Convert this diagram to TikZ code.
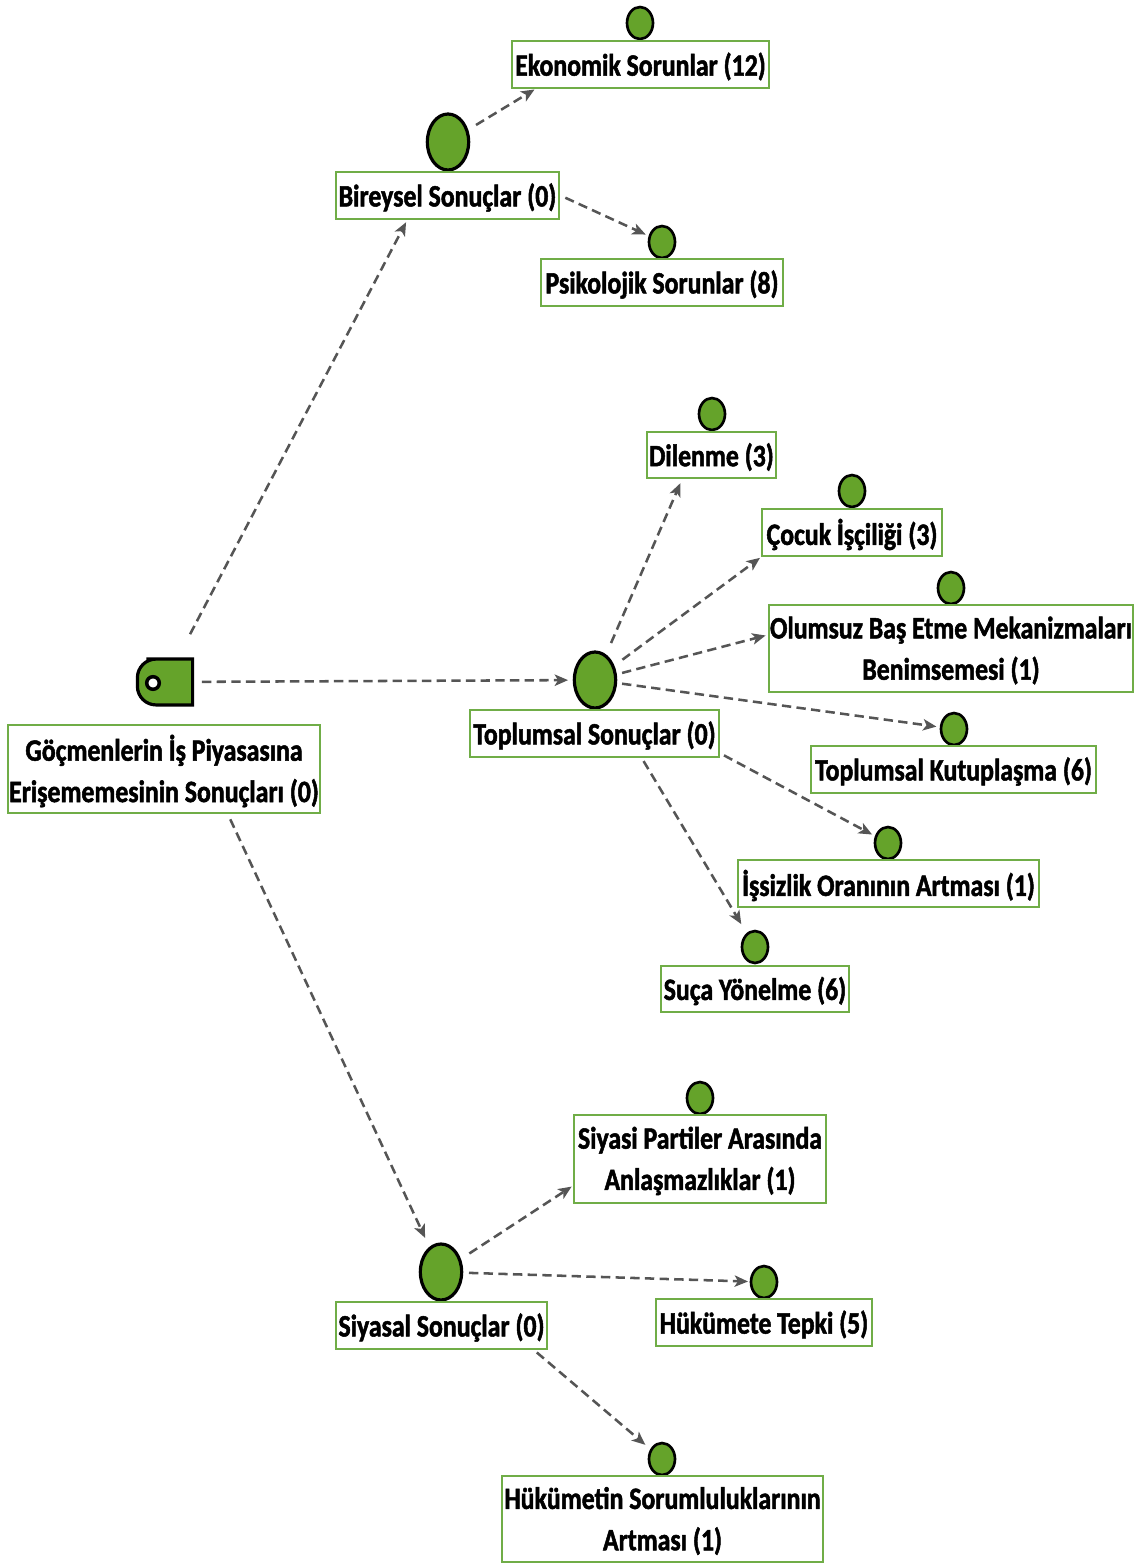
\documentclass[tikz,border=0pt]{standalone}
\usepackage{fontspec}
\setmainfont{Carlito}[FakeStretch=0.83,BoldFeatures={FakeBold=1.6}]
\usetikzlibrary{arrows.meta,shapes.geometric,fit,calc}
\definecolor{boxgreen}{RGB}{112,173,71}
\definecolor{dotgreen}{RGB}{101,163,42}
\definecolor{linkgray}{RGB}{85,85,85}
\begin{document}
\begin{tikzpicture}[x=0.75pt,y=-0.75pt,
  lbl/.style={draw=boxgreen,line width=2.2pt,fill=white,inner sep=0pt,
    align=center,font=\fontsize{23.3}{31}\selectfont\bfseries},
  txt/.style={lbl,draw=none,fill=none,yshift=-1.5pt},
  dot/.style={ellipse,draw=black,line width=2pt,fill=dotgreen,
    minimum width=19.5pt,minimum height=24pt,inner sep=0pt},
  bigdot/.style={ellipse,draw=black,line width=2.4pt,fill=dotgreen,
    minimum width=31pt,minimum height=42pt,inner sep=0pt},
  conn/.style={draw=linkgray,line width=1.9pt,dash pattern=on 7pt off 4pt,
    -{Stealth[length=10pt,width=8.5pt,inset=2.5pt]}}]
\useasboundingbox (0,0) rectangle (1144,1564);

% ---- root ----
\node[lbl,fit={(8,725) (320,813)}] (root) {};
\node[txt] at (root.center) {Göçmenlerin İş Piyasasına\\Erişememesinin Sonuçları (0)};
\node[minimum width=41pt,minimum height=34pt,inner sep=0pt] (icon) at (165,682) {};
\draw[line width=2.4pt,fill=dotgreen]
  (icon.south) [rounded corners=14pt] -- (icon.south west) -- (icon.north west)
  -- (icon.north) [sharp corners] -- (icon.north east) -- (icon.south east) -- cycle;
\draw[line width=2.6pt,fill=white] (153,683) circle[radius=6.3];

% ---- first level ----
\node[bigdot] (bdot) at (448,142) {};
\node[lbl,fit={(336,172) (559,219)}] (bire) {};
\node[txt] at (bire.center) {Bireysel Sonuçlar (0)};

\node[bigdot] (tdot) at (595,680) {};
\node[lbl,fit={(470,710) (719,757)}] (topl) {};
\node[txt] at (topl.center) {Toplumsal Sonuçlar (0)};

\node[bigdot] (sdot) at (441,1272) {};
\node[lbl,fit={(336,1302) (547,1349)}] (siy) {};
\node[txt] at (siy.center) {Siyasal Sonuçlar (0)};

% ---- leaves under Bireysel ----
\node[dot] (edot) at (640,23) {};
\node[lbl,fit={(512,41) (769,88)}] (eko) {};
\node[txt] at (eko.center) {Ekonomik Sorunlar (12)};

\node[dot] (pdot) at (662,242) {};
\node[lbl,fit={(541,259) (783,306)}] (psi) {};
\node[txt] at (psi.center) {Psikolojik Sorunlar (8)};

% ---- leaves under Toplumsal ----
\node[dot] (ddot) at (712,414) {};
\node[lbl,fit={(647,432) (776,478)}] (dil) {};
\node[txt] at (dil.center) {Dilenme (3)};

\node[dot] (cdot) at (852,491) {};
\node[lbl,fit={(762,509) (942,556)}] (coc) {};
\node[txt] at (coc.center) {Çocuk İşçiliği (3)};

\node[dot] (odot) at (951,588) {};
\node[lbl,fit={(769,605) (1133,692)}] (olu) {};
\node[txt] at (olu.center) {Olumsuz Baş Etme Mekanizmaları\\Benimsemesi (1)};

\node[dot] (kdot) at (954,729) {};
\node[lbl,fit={(811,746) (1096,793)}] (kut) {};
\node[txt] at (kut.center) {Toplumsal Kutuplaşma (6)};

\node[dot] (idot) at (888,843) {};
\node[lbl,fit={(738,860) (1039,907)}] (iss) {};
\node[txt] at (iss.center) {İşsizlik Oranının Artması (1)};

\node[dot] (ydot) at (755,947) {};
\node[lbl,fit={(661,966) (849,1012)}] (suc) {};
\node[txt] at (suc.center) {Suça Yönelme (6)};

% ---- leaves under Siyasal ----
\node[dot] (adot) at (700,1098) {};
\node[lbl,fit={(574,1115) (826,1203)}] (spa) {};
\node[txt] at (spa.center) {Siyasi Partiler Arasında\\Anlaşmazlıklar (1)};

\node[dot] (hdot) at (764,1282) {};
\node[lbl,fit={(656,1299) (872,1346)}] (tep) {};
\node[txt] at (tep.center) {Hükümete Tepki (5)};

\node[dot] (rdot) at (662,1459) {};
\node[lbl,fit={(502,1476) (823,1562)}] (sor) {};
\node[txt] at (sor.center) {Hükümetin Sorumluluklarının\\Artması (1)};

% ---- connectors ----
\draw[conn,shorten <=40.5pt,shorten >=1.5pt] (icon.center) -- ($(bire.south)+(-40.5,0)$);
\draw[conn,shorten <=27.7pt,shorten >=20.2pt] (icon.center) -- (tdot.center);
\draw[conn,shorten <=4pt,shorten >=28.2pt] ($(root.south)+(64,0)$) -- (sdot.center);

\draw[conn,shorten <=24.6pt] (bdot.center) -- ($(eko.south west)+(24,0)$);
\draw[conn,shorten <=4pt,shorten >=13.4pt] (bire.east) -- (pdot.center);

\draw[conn,shorten <=30.2pt,shorten >=3pt] (tdot.center) -- ($(dil.south)+(-29.5,0)$);
\draw[conn,shorten <=25.6pt,shorten >=0.5pt] (tdot.center) -- (coc.south west);
\draw[conn,shorten <=21pt,shorten >=1.5pt] (tdot.center) -- ($(olu.west)+(0,-13.5)$);
\draw[conn,shorten <=20.5pt,shorten >=13.3pt] (tdot.center) -- (kdot.center);
\draw[conn,shorten <=3pt,shorten >=13.5pt] ($(topl.south east)+(0,-5)$) -- (idot.center);
\draw[conn,shorten <=2.3pt,shorten >=20pt] ($(topl.south)+(47.5,0)$) -- (ydot.center);

\draw[conn,shorten <=25.4pt,shorten >=0.8pt] (sdot.center) -- ($(spa.west)+(0,27)$);
\draw[conn,shorten <=21pt,shorten >=12pt] (sdot.center) -- (hdot.center);
\draw[conn,shorten <=2.3pt,shorten >=16.4pt] ($(siy.south east)+(-14,0)$) -- (rdot.center);
\end{tikzpicture}
\end{document}
